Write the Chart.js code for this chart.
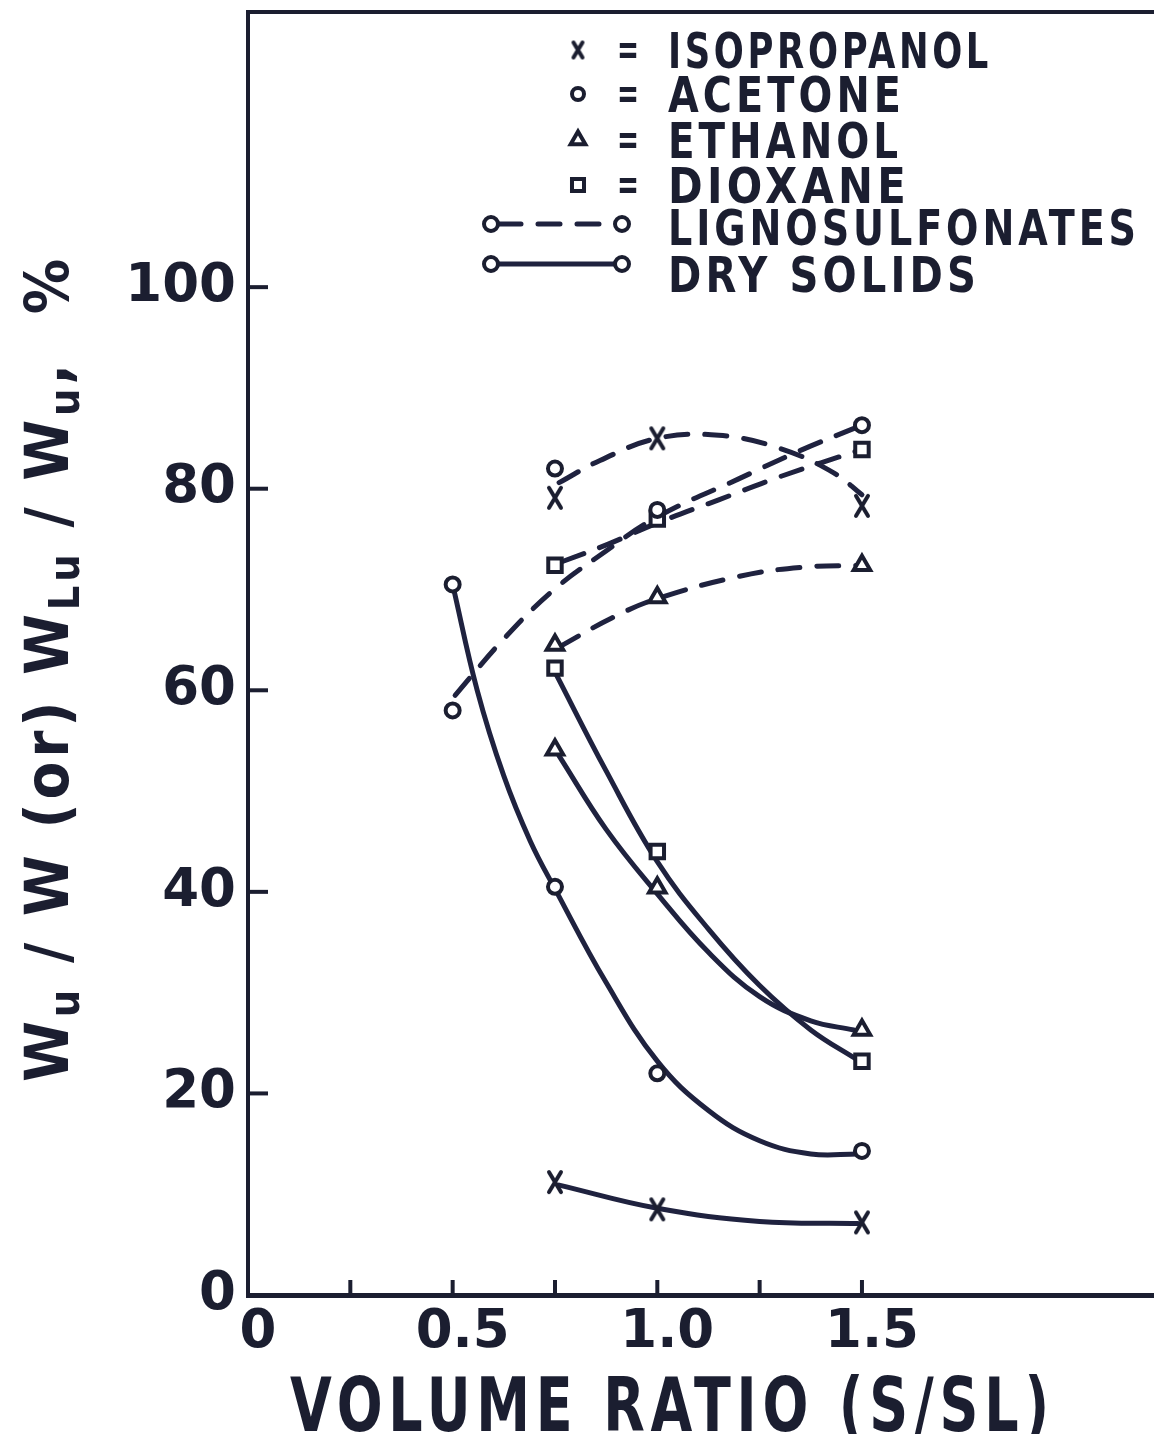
<!DOCTYPE html>
<html>
<head>
<meta charset="utf-8">
<title>Volume ratio</title>
<script src="https://cdn.jsdelivr.net/npm/chart.js@4.4.1/dist/chart.umd.min.js"></script>
<style>
  html, body { margin: 0; padding: 0; background: #fff; }
  #wrap { width: 1154px; height: 1434px; position: relative; }
</style>
</head>
<body>
<div id="wrap"><canvas id="chart"></canvas></div>
<script>
var INK = '#1b1e30';
var CURVE = '#1f223f';
var FONT = '"DejaVu Sans", sans-serif';

// axis ticks
var xTickValues = [0, 0.25, 0.5, 0.75, 1.0, 1.25, 1.5];
var xTickLabels = ['0', '', '0.5', '', '1.0', '', '1.5'];
var yTickValues = [0, 20, 40, 60, 80, 100];
var yTickLabels = ['0', '20', '40', '60', '80', '100'];

// measured points - lignosulfonates
var isoLigX = [0.75, 1.0, 1.5];
var isoLigY = [79.1, 85.0, 78.3];
var acetoneLigX = [0.5, 0.75, 1.0, 1.5];
var acetoneLigY = [58.0, 82.0, 77.9, 86.3];
var ethanolLigX = [0.75, 1.0, 1.5];
var ethanolLigY = [64.5, 69.2, 72.4];
var dioxaneLigX = [0.75, 1.0, 1.5];
var dioxaneLigY = [72.4, 77.0, 83.9];

// measured points - dry solids
var isoDryX = [0.75, 1.0, 1.5];
var isoDryY = [11.2, 8.5, 7.2];
var acetoneDryX = [0.5, 0.75, 1.0, 1.5];
var acetoneDryY = [70.5, 40.5, 22.0, 14.3];
var ethanolDryX = [0.75, 1.0, 1.5];
var ethanolDryY = [54.1, 40.4, 26.3];
var dioxaneDryX = [0.75, 1.0, 1.5];
var dioxaneDryY = [62.2, 44.0, 23.2];

// hand-drawn smoothing curves
var isoLigCurveX = [0.76, 0.86, 1.0, 1.15, 1.3, 1.43, 1.5];
var isoLigCurveY = [80.6, 82.8, 85.0, 85.3, 84.0, 81.6, 79.4];
var acetoneLigCurveX = [0.506, 0.625, 0.745, 0.86, 1.0, 1.2, 1.35, 1.5];
var acetoneLigCurveY = [59.5, 65.1, 69.9, 73.4, 77.2, 81.0, 83.8, 86.3];
var ethanolLigCurveX = [0.76, 0.89, 1.0, 1.2, 1.35, 1.5];
var ethanolLigCurveY = [64.3, 67.2, 69.1, 71.3, 72.2, 72.4];
var dioxaneLigCurveX = [0.77, 0.88, 1.0, 1.15, 1.3, 1.5];
var dioxaneLigCurveY = [72.8, 74.5, 76.6, 78.9, 81.2, 83.9];

var isoDryCurveX = [0.76, 1.0, 1.25, 1.49];
var isoDryCurveY = [10.9, 8.6, 7.3, 7.1];
var acetoneDryCurveX = [0.5, 0.56, 0.625, 0.69, 0.75, 0.875, 1.0, 1.125, 1.25, 1.375, 1.49];
var acetoneDryCurveY = [70.5, 60.0, 51.5, 45.0, 40.3, 31.0, 23.2, 18.3, 15.3, 14.0, 14.0];
var ethanolDryCurveX = [0.76, 0.875, 1.0, 1.125, 1.25, 1.375, 1.48];
var ethanolDryCurveY = [53.5, 46.2, 39.8, 34.0, 29.6, 27.2, 26.3];
var dioxaneDryCurveX = [0.75, 0.875, 1.0, 1.125, 1.25, 1.375, 1.49];
var dioxaneDryCurveY = [61.8, 52.0, 43.0, 36.3, 30.7, 26.3, 23.3];

// legend
var legendNames = ['ISOPROPANOL', 'ACETONE', 'ETHANOL', 'DIOXANE'];
var legendStyles = ['cross', 'circle', 'triangle', 'rect'];
var legendLines = ['LIGNOSULFONATES', 'DRY SOLIDS'];

function pairs(xs, ys) {
  return xs.map(function (x, i) { return { x: x, y: ys[i] }; });
}

// tall lettered "X" used for the isopropanol points
function makeCross(w, h) {
  var c = document.createElement('canvas');
  c.width = w; c.height = h;
  var g = c.getContext('2d');
  g.strokeStyle = INK;
  g.lineWidth = 4;
  g.lineCap = 'round';
  g.beginPath();
  g.moveTo(4, 3); g.lineTo(w - 4, h - 3);
  g.moveTo(w - 4, 3); g.lineTo(4, h - 3);
  g.stroke();
  return c;
}
var crossMark = makeCross(20, 26);
var crossSmall = makeCross(17, 21);

var markerSize = { cross: 12, circle: 7, triangle: 9.5, rect: 9.5 };

function styleOf(name) { return name === 'cross' ? crossMark : name; }

function markers(xs, ys, style) {
  return {
    data: pairs(xs, ys),
    showLine: false,
    pointStyle: styleOf(style),
    pointRadius: markerSize[style],
    pointBorderWidth: 4,
    pointBorderColor: INK,
    pointBackgroundColor: '#fff'
  };
}

function curve(xs, ys, dashed) {
  return {
    data: pairs(xs, ys),
    showLine: true,
    pointRadius: 0,
    borderColor: CURVE,
    borderWidth: 5,
    borderDash: dashed ? [22, 17] : [],
    borderCapStyle: 'round',
    tension: 0.4
  };
}

// draws spaced lettering squeezed to a given width
function fitText(ctx, str, x, y, size, width, spacing) {
  ctx.save();
  ctx.font = 'bold ' + size + 'px ' + FONT;
  ctx.letterSpacing = (spacing || 0) + 'px';
  var w = ctx.measureText(str).width;
  ctx.translate(x, y);
  ctx.scale(width / w, 1);
  ctx.textAlign = 'left';
  ctx.textBaseline = 'alphabetic';
  ctx.fillText(str, 0, 0);
  ctx.restore();
}

function drawYTitle(ctx) {
  var parts = [['W', 0], ['u', 1], [' / ', 0], ['W', 0], [' (or) ', 0], ['W', 0], ['Lu', 1],
               [' / ', 0], ['W', 0], ['u', 1], [',', 0], ['  %', 0]];
  var big = 'bold 60px ' + FONT, small = 'bold 42px ' + FONT;
  ctx.save();
  ctx.letterSpacing = '4px';
  var widths = parts.map(function (p) {
    ctx.font = p[1] ? small : big;
    return ctx.measureText(p[0]).width;
  });
  var total = widths.reduce(function (a, b) { return a + b; }, 0);
  ctx.translate(68, 1082);
  ctx.rotate(-Math.PI / 2);
  ctx.scale(827 / total, 1);
  ctx.textBaseline = 'alphabetic';
  ctx.textAlign = 'left';
  var pos = 0;
  parts.forEach(function (p, i) {
    ctx.font = p[1] ? small : big;
    ctx.fillText(p[0], pos, p[1] ? 11 : 0);
    pos += widths[i];
  });
  ctx.restore();
}

var decor = {
  id: 'decor',
  afterDraw: function (chart) {
    var ctx = chart.ctx, xs = chart.scales.x, ys = chart.scales.y, area = chart.chartArea;
    ctx.save();
    ctx.strokeStyle = INK;
    ctx.fillStyle = INK;
    ctx.lineWidth = 4;

    // tick marks point into the plot
    xTickValues.forEach(function (v) {
      if (v === 0) return;
      var px = xs.getPixelForValue(v);
      ctx.beginPath();
      ctx.moveTo(px, area.bottom);
      ctx.lineTo(px, area.bottom - 15);
      ctx.stroke();
    });
    yTickValues.forEach(function (v) {
      if (v === 0) return;
      var py = ys.getPixelForValue(v);
      ctx.beginPath();
      ctx.moveTo(area.left, py);
      ctx.lineTo(area.left + 20, py);
      ctx.stroke();
    });

    // legend: marker = name
    var rowBase = [68, 112, 158, 203];
    var rowWidth = [324, 237, 234, 242];
    legendNames.forEach(function (name, i) {
      var cy = rowBase[i] - 18;
      var st = legendStyles[i];
      ctx.fillStyle = '#fff';
      ctx.lineWidth = 4;
      Chart.helpers.drawPoint(ctx, { pointStyle: st === 'cross' ? crossSmall : st, radius: markerSize[st] - 1, rotation: 0, borderWidth: 4 }, 578, cy);
      ctx.fillStyle = INK;
      fitText(ctx, '=', 617, rowBase[i] - 4, 44, 22, 0);
      fitText(ctx, name, 668, rowBase[i], 49, rowWidth[i], 5);
    });

    // legend: line samples
    var lineY = [224, 264];
    var lineBase = [245, 292];
    var lineWidth = [472, 312];
    legendLines.forEach(function (name, i) {
      ctx.save();
      ctx.strokeStyle = CURVE;
      ctx.lineWidth = 5;
      ctx.lineCap = i === 0 ? 'round' : 'butt';
      ctx.setLineDash(i === 0 ? [22, 17] : []);
      ctx.beginPath();
      ctx.moveTo(499, lineY[i]);
      ctx.lineTo(614, lineY[i]);
      ctx.stroke();
      ctx.restore();
      ctx.fillStyle = '#fff';
      ctx.lineWidth = 4;
      Chart.helpers.drawPoint(ctx, { pointStyle: 'circle', radius: 7, rotation: 0, borderWidth: 4 }, 491, lineY[i]);
      Chart.helpers.drawPoint(ctx, { pointStyle: 'circle', radius: 7, rotation: 0, borderWidth: 4 }, 622, lineY[i]);
      ctx.fillStyle = INK;
      fitText(ctx, name, 668, lineBase[i], 49, lineWidth[i], 5);
    });

    // axis titles
    fitText(ctx, 'VOLUME RATIO (S/SL)', 290, 1431, 74, 765, 8);
    drawYTitle(ctx);
    ctx.restore();
  }
};

var tickFont = { family: FONT, size: 53, weight: 'bold' };

new Chart(document.getElementById('chart'), {
  type: 'scatter',
  data: {
    datasets: [
      markers(isoLigX, isoLigY, 'cross'),
      markers(acetoneLigX, acetoneLigY, 'circle'),
      markers(ethanolLigX, ethanolLigY, 'triangle'),
      markers(dioxaneLigX, dioxaneLigY, 'rect'),
      markers(isoDryX, isoDryY, 'cross'),
      markers(acetoneDryX, acetoneDryY, 'circle'),
      markers(ethanolDryX, ethanolDryY, 'triangle'),
      markers(dioxaneDryX, dioxaneDryY, 'rect'),
      curve(isoLigCurveX, isoLigCurveY, true),
      curve(acetoneLigCurveX, acetoneLigCurveY, true),
      curve(ethanolLigCurveX, ethanolLigCurveY, true),
      curve(dioxaneLigCurveX, dioxaneLigCurveY, true),
      curve(isoDryCurveX, isoDryCurveY, false),
      curve(acetoneDryCurveX, acetoneDryCurveY, false),
      curve(ethanolDryCurveX, ethanolDryCurveY, false),
      curve(dioxaneDryCurveX, dioxaneDryCurveY, false)
    ]
  },
  options: {
    responsive: true,
    maintainAspectRatio: false,
    animation: false,
    events: [],
    layout: { padding: 0, autoPadding: false },
    plugins: { legend: { display: false }, tooltip: { enabled: false } },
    scales: {
      x: {
        type: 'linear',
        position: 'bottom',
        min: 0,
        max: 2.2135,
        afterBuildTicks: function (s) { s.ticks = xTickValues.map(function (v) { return { value: v }; }); },
        afterFit: function (s) { s.height = 139; s.paddingLeft = 0; s.paddingRight = 0; },
        grid: { display: false, drawTicks: false },
        border: { display: true, color: INK, width: 5 },
        ticks: {
          font: tickFont,
          color: INK,
          padding: 6,
          labelOffset: 10,
          maxRotation: 0,
          autoSkip: false,
          callback: function (v, i) { return xTickLabels[i]; }
        }
      },
      x2: {
        type: 'linear',
        axis: 'x',
        position: 'top',
        min: 0,
        max: 2.2135,
        afterFit: function (s) { s.height = 12; s.paddingLeft = 0; s.paddingRight = 0; },
        grid: { display: false, drawTicks: false },
        border: { display: true, color: INK, width: 4 },
        ticks: { display: false }
      },
      y: {
        type: 'linear',
        min: 0,
        max: 127.3,
        afterBuildTicks: function (s) { s.ticks = yTickValues.map(function (v) { return { value: v }; }); },
        afterFit: function (s) { s.width = 248; s.paddingTop = 0; s.paddingBottom = 0; },
        grid: { display: false, drawTicks: false },
        border: { display: true, color: INK, width: 4 },
        ticks: {
          font: tickFont,
          color: INK,
          padding: 12,
          autoSkip: false,
          callback: function (v, i) { return yTickLabels[i]; }
        }
      }
    }
  },
  plugins: [decor]
});
</script>
</body>
</html>
